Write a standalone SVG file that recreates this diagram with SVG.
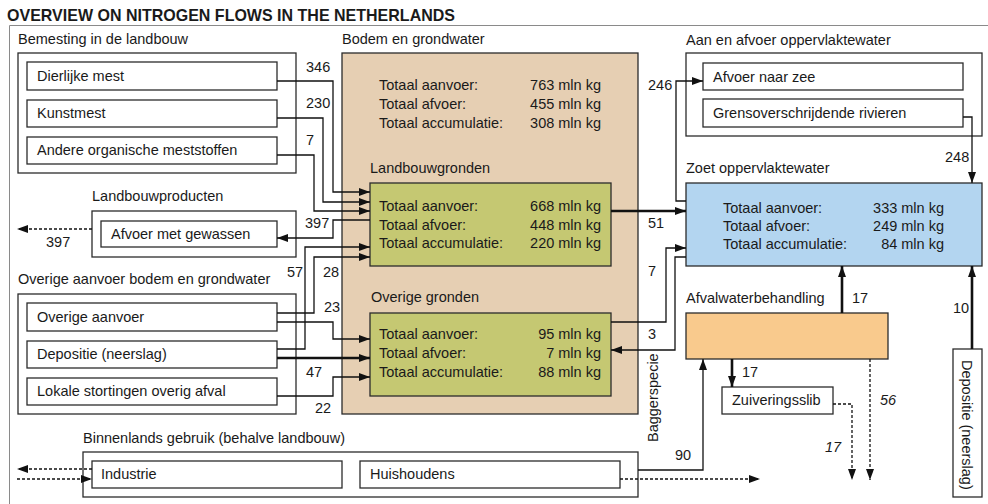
<svg xmlns="http://www.w3.org/2000/svg" width="988" height="504" viewBox="0 0 988 504">
<defs>
<marker id="ah" markerUnits="userSpaceOnUse" markerWidth="11" markerHeight="8" refX="11" refY="4" orient="auto">
<path d="M0,0 L11,4 L0,8 z" fill="#111"/>
</marker>
<style>
text{font-family:"Liberation Sans",Arial,sans-serif;font-size:14.5px;fill:#1a1a1a}
.title{font-weight:bold;font-size:17px}
.box{fill:#fff;stroke:#2b2b2b;stroke-width:1.3}
.tan{fill:#e6cfb3;stroke:#2b2b2b;stroke-width:1.3}
.olive{fill:#c5c872;stroke:#2b2b2b;stroke-width:1.3}
.blue{fill:#b3d5f0;stroke:#2b2b2b;stroke-width:1.3}
.peach{fill:#f9ca8d;stroke:#2b2b2b;stroke-width:1.3}
.frame{fill:none;stroke:#8a8a8a;stroke-width:1}
.c{fill:none;stroke:#111;stroke-width:1.3;marker-end:url(#ah)}
.n{fill:none;stroke:#111;stroke-width:1.3}
.thick{stroke-width:2.6}
.dot{stroke-dasharray:3 2}
.end{text-anchor:end}
.it{font-style:italic}
</style>
</defs>

<text class="title" x="7" y="21" textLength="448" lengthAdjust="spacingAndGlyphs">OVERVIEW ON NITROGEN FLOWS IN THE NETHERLANDS</text>
<path class="frame" d="M9.5,504 V25.5 H988"/>

<g id="bemesting">
<text x="18" y="44">Bemesting in de landbouw</text>
<rect class="box" x="18" y="53" width="278" height="120"/>
<rect class="box" x="27" y="62" width="250" height="28"/>
<text x="37" y="81">Dierlijke mest</text>
<rect class="box" x="27" y="100" width="250" height="27"/>
<text x="37" y="118">Kunstmest</text>
<rect class="box" x="27" y="137" width="250" height="27"/>
<text x="37" y="155">Andere organische meststoffen</text>
</g>

<g id="landbouwproducten">
<text x="92" y="201">Landbouwproducten</text>
<rect class="box" x="92" y="211" width="204" height="46"/>
<rect class="box" x="101" y="221" width="176" height="26"/>
<text x="111" y="239">Afvoer met gewassen</text>
</g>

<g id="overige-aanvoer">
<text x="18" y="284">Overige aanvoer bodem en grondwater</text>
<rect class="box" x="18" y="294" width="278" height="120"/>
<rect class="box" x="27" y="303" width="250" height="28"/>
<text x="37" y="322">Overige aanvoer</text>
<rect class="box" x="27" y="341" width="250" height="27"/>
<text x="37" y="359">Depositie (neerslag)</text>
<rect class="box" x="27" y="378" width="250" height="27"/>
<text x="37" y="396">Lokale stortingen overig afval</text>
</g>

<g id="bodem">
<text x="342" y="44">Bodem en grondwater</text>
<rect class="tan" x="342" y="53" width="296" height="361"/>
<text x="379" y="90">Totaal aanvoer:</text>
<text x="379" y="109">Totaal afvoer:</text>
<text x="379" y="128">Totaal accumulatie:</text>
<text class="end" x="601" y="90">763 mln kg</text>
<text class="end" x="601" y="109">455 mln kg</text>
<text class="end" x="601" y="128">308 mln kg</text>
</g>

<g id="landbouwgronden">
<text x="370" y="173">Landbouwgronden</text>
<rect class="olive" x="370" y="183" width="241" height="83"/>
<text x="379" y="211">Totaal aanvoer:</text>
<text x="379" y="230">Totaal afvoer:</text>
<text x="379" y="248">Totaal accumulatie:</text>
<text class="end" x="601" y="211">668 mln kg</text>
<text class="end" x="601" y="230">448 mln kg</text>
<text class="end" x="601" y="248">220 mln kg</text>
</g>

<g id="overige-gronden">
<text x="371" y="302">Overige gronden</text>
<rect class="olive" x="370" y="313" width="241" height="83"/>
<text x="379" y="339">Totaal aanvoer:</text>
<text x="379" y="358">Totaal afvoer:</text>
<text x="379" y="377">Totaal accumulatie:</text>
<text class="end" x="601" y="339">95 mln kg</text>
<text class="end" x="601" y="358">7 mln kg</text>
<text class="end" x="601" y="377">88 mln kg</text>
</g>

<g id="aan-afvoer">
<text x="686" y="45">Aan en afvoer oppervlaktewater</text>
<rect class="box" x="686" y="53" width="296" height="83"/>
<rect class="box" x="703" y="63" width="260" height="27"/>
<text x="713" y="82">Afvoer naar zee</text>
<rect class="box" x="703" y="99" width="260" height="28"/>
<text x="713" y="118">Grensoverschrijdende rivieren</text>
</g>

<g id="zoet-oppervlaktewater">
<text x="686" y="173">Zoet oppervlaktewater</text>
<rect class="blue" x="686" y="183" width="296" height="83"/>
<text x="723" y="213">Totaal aanvoer:</text>
<text x="723" y="231">Totaal afvoer:</text>
<text x="723" y="249">Totaal accumulatie:</text>
<text class="end" x="944" y="213">333 mln kg</text>
<text class="end" x="944" y="231">249 mln kg</text>
<text class="end" x="944" y="249">84 mln kg</text>
</g>

<g id="afvalwaterbehandling">
<text x="686" y="303">Afvalwaterbehandling</text>
<rect class="peach" x="686" y="313" width="202" height="46"/>
</g>

<g id="zuiveringsslib">
<rect class="box" x="722" y="387" width="111" height="27"/>
<text x="732" y="405">Zuiveringsslib</text>
</g>

<g id="depositie-oppervlaktewater">
<rect class="box" x="953" y="349" width="29" height="148"/>
<text transform="translate(962,360) rotate(90)">Depositie (neerslag)</text>
</g>

<g id="binnenlands-gebruik">
<text x="83" y="443">Binnenlands gebruik (behalve landbouw)</text>
<rect class="box" x="83" y="452" width="555" height="45"/>
<rect class="box" x="92" y="461" width="250" height="27"/>
<text x="101" y="479">Industrie</text>
<rect class="box" x="360" y="461" width="260" height="27"/>
<text x="370" y="479">Huishoudens</text>
</g>

<g id="connectors">
<path class="c" d="M277,81 H333 V192 H370"/>
<path class="c" d="M277,118 H323 V202 H370"/>
<path class="c" d="M277,155 H314 V211 H370"/>
<path class="c" d="M370,220 H333 V238 H277"/>
<path class="c dot" d="M92,229 H17"/>
<path class="c" d="M277,349 H305 V247 H370"/>
<path class="c" d="M277,313 H314 V257 H370"/>
<path class="c" d="M277,322 H333 V339 H370"/>
<path class="c thick" d="M277,358 H370"/>
<path class="c" d="M277,396 H333 V377 H370"/>
<path class="c thick" d="M611,211 H686"/>
<path class="c" d="M611,322 H666 V248 H686"/>
<path class="c" d="M686,257 H675 V350 H611"/>
<path class="c" d="M686,201 H676 V81 H703"/>
<path class="c" d="M963,117 H972 V183"/>
<path class="c thick" d="M842,313 V266"/>
<path class="c thick" d="M732,359 V387"/>
<path class="c thick" d="M972,349 V266"/>
<path class="c dot" d="M833,404 H852 V480"/>
<path class="c dot" d="M870,359 V480"/>
<path class="c" d="M638,470 H703 V359"/>
<path class="c dot" d="M620,479 H760"/>
<path class="c dot" d="M92,469 H17"/>
<path class="c dot" d="M17,479 H92"/>

<text x="306" y="72">346</text>
<text x="306" y="108">230</text>
<text x="306" y="145">7</text>
<text x="305" y="228">397</text>
<text x="46" y="247">397</text>
<text x="287" y="277">57</text>
<text x="323" y="277">28</text>
<text x="324" y="312">23</text>
<text x="306" y="377">47</text>
<text x="315" y="413">22</text>
<text x="648" y="228">51</text>
<text x="648" y="276">7</text>
<text x="648" y="339">3</text>
<text x="648" y="90">246</text>
<text x="945" y="162">248</text>
<text x="852" y="303">17</text>
<text x="742" y="377">17</text>
<text x="953" y="313">10</text>
<text x="675" y="460">90</text>
<text class="it" x="880" y="405">56</text>
<text class="it" x="825" y="452">17</text>
<text transform="translate(658,442) rotate(-90)">Baggerspecie</text>
</g>
</svg>
